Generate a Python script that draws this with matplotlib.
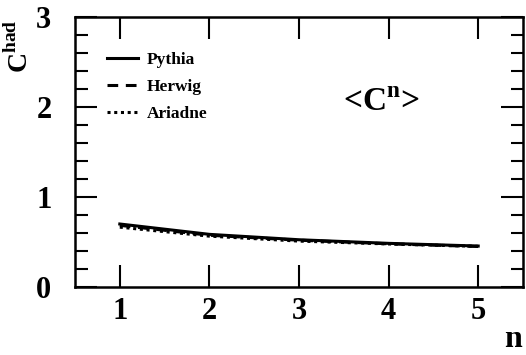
import numpy as np
import matplotlib
matplotlib.use("Agg")
import matplotlib.pyplot as plt
from matplotlib.ticker import MultipleLocator

n = [1, 2, 3, 4, 5]
pythia = [0.70, 0.585, 0.525, 0.485, 0.455]
herwig = [0.685, 0.575, 0.520, 0.480, 0.450]
ariadne = [0.665, 0.565, 0.510, 0.478, 0.452]

plt.rcParams["font.family"] = ["Liberation Serif", "DejaVu Serif"]
plt.rcParams["font.weight"] = "bold"
plt.rcParams["mathtext.fontset"] = "custom"
plt.rcParams["mathtext.rm"] = "Liberation Serif:bold"
plt.rcParams["mathtext.bf"] = "Liberation Serif:bold"

fig = plt.figure(figsize=(5.26, 3.55), dpi=100)
ax = fig.add_axes([75 / 526, 1 - 287 / 355, 448 / 526, 270 / 355])

ax.plot(n, pythia, color="black", lw=2.2, ls="-", label="Pythia")
ax.plot(n, herwig, color="black", lw=2.2, ls=(0, (3.5, 2.5)), label="Herwig")
ax.plot(n, ariadne, color="black", lw=2.2, ls=(0, (1, 1.2)), label="Ariadne")

ax.set_xlim(0.5, 5.5)
ax.set_ylim(0, 3)
ax.xaxis.set_major_locator(MultipleLocator(1))
ax.yaxis.set_major_locator(MultipleLocator(1))
ax.yaxis.set_minor_locator(MultipleLocator(0.2))
ax.tick_params(which="both", direction="in", top=True, right=True, width=1.5,
               labelsize=22)
ax.tick_params(axis="y", pad=17)
ax.tick_params(axis="x", pad=7)
ax.tick_params(which="major", length=16)
ax.tick_params(which="minor", length=9)
for s in ax.spines.values():
    s.set_linewidth(1.8)
for lab in ax.get_xticklabels() + ax.get_yticklabels():
    lab.set_fontweight("bold")

fig.text(20 / 526, 1 - 46 / 355, r"C$^{\mathrm{had}}$", rotation=90,
         fontsize=20, fontweight="bold", ha="center", va="center")
fig.text(513 / 526, 1 - 354 / 355, "n", fontsize=23, fontweight="bold",
         ha="center", va="bottom")
ax.text((381 - 75) / 448, 1 - (102 - 17) / 270, r"<C$^{\mathrm{n}}$>",
        transform=ax.transAxes, fontsize=24, fontweight="bold",
        ha="center", va="center")

leg = ax.legend(loc="upper left", bbox_to_anchor=(0.036, 0.927), frameon=False,
                prop={"size": 12.5, "weight": "bold"}, handlelength=1.8,
                labelspacing=0.6, handletextpad=0.5)

fig.savefig("out.png", dpi=100)
